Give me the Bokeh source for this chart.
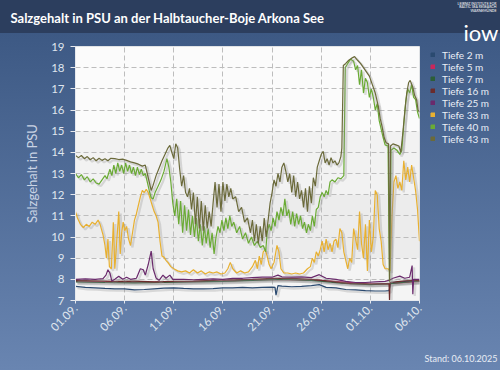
import pandas as pd
from math import pi
from bokeh.plotting import figure
from bokeh.models import (ColumnDataSource, FixedTicker, DatetimeTickFormatter, Legend,
                          LegendItem, Label, BoxAnnotation, InlineStyleSheet)
from bokeh.transform import dodge
from bokeh.embed import file_html
from bokeh.resources import INLINE

# ---------------- data (days since 01.09.2025, salinity PSU) ----------------
START = "2025-09-01"
END = "2025-10-06"
tick_dates = ["2025-09-01", "2025-09-06", "2025-09-11", "2025-09-16",
              "2025-09-21", "2025-09-26", "2025-10-01", "2025-10-06"]
y_ticks = list(range(7, 20))

series_labels = ["Tiefe 2 m", "Tiefe 5 m", "Tiefe 7 m", "Tiefe 16 m",
                 "Tiefe 25 m", "Tiefe 33 m", "Tiefe 40 m", "Tiefe 43 m"]
series_colors = ["#2b4a70", "#c8285c", "#2d5e38", "#6b2c2c",
                 "#6a2a6c", "#e8b030", "#6aab34", "#6b6a3a"]

t_2m = [0, 1, 2, 3, 4, 5, 6, 7, 8, 9, 10, 11, 12, 13, 14, 15, 16, 17, 18, 19, 20,
        20.3, 20.4, 20.6, 21, 22, 23, 24, 24.8, 25.5, 26.5, 27.5, 28.5, 29.5, 30.5,
        31.5, 31.9, 32.1, 33, 34, 35]
s_2m = [7.67, 7.62, 7.6, 7.57, 7.55, 7.55, 7.5, 7.52, 7.55, 7.58, 7.6, 7.57, 7.55, 7.55,
        7.56, 7.6, 7.6, 7.62, 7.6, 7.62, 7.63, 7.62, 7.25, 7.7, 7.68, 7.65, 7.67, 7.7,
        7.75, 7.62, 7.6, 7.52, 7.5, 7.47, 7.45, 7.45, 7.47, 7.85, 7.88, 7.9, 7.9]

t_5m = [0, 5, 10, 15, 20, 25, 30, 32, 35]
s_5m = [7.9, 7.87, 7.88, 7.92, 8.0, 7.95, 7.78, 7.8, 7.9]

t_7m = [0, 3, 6, 9, 12, 15, 18, 21, 24, 27, 30, 32, 35]
s_7m = [7.88, 7.85, 7.83, 7.85, 7.88, 7.9, 7.95, 8.0, 7.95, 7.82, 7.75, 7.8, 7.92]

t_16m = [0, 2, 4, 6, 8, 10, 12, 14, 16, 18, 20, 22, 24, 26, 28, 30, 31.9, 31.95,
         32.0, 33, 34, 35]
s_16m = [7.95, 7.93, 7.9, 7.92, 7.88, 7.9, 7.92, 7.95, 7.98, 8.0, 8.05, 8.05, 8.0,
         7.9, 7.8, 7.78, 7.8, 7.0, 7.85, 7.9, 7.95, 7.95]

t_25m = [0, 1, 2, 2.8, 3.1, 3.3, 3.5, 3.7, 4.0, 4.4, 4.8, 5.2, 5.6, 6.2, 6.6, 6.9, 7.1,
         7.4, 7.7, 7.9, 8.2, 8.5, 8.9, 9.2, 9.6, 9.9, 11, 12, 13, 14, 15, 16, 17, 18,
         19, 20, 20.6, 21, 22, 23, 24, 24.8, 25.5, 26.5, 27.5, 28.5, 29.5, 30.5, 31.5,
         31.9, 32.3, 33.0, 33.5, 34.0, 34.25, 34.32, 34.4, 35]
s_25m = [8.0, 8.02, 8.0, 8.03, 8.2, 8.45, 8.3, 7.92, 8.0, 8.15, 8.0, 8.1, 8.0, 8.05,
         8.5, 8.45, 8.2, 8.7, 9.33, 8.5, 8.06, 7.95, 8.2, 8.05, 8.2, 8.0, 8.0, 7.98,
         8.0, 8.02, 8.0, 8.05, 8.05, 8.08, 8.1, 8.1, 8.2, 8.12, 8.1, 8.12, 8.08, 8.22,
         8.05, 8.0, 7.9, 7.85, 7.85, 7.88, 7.9, 7.95, 8.05, 8.15, 8.05, 8.1, 8.65, 7.3,
         8.0, 8.0]

t_33m = [0.0, 0.2, 0.5, 0.8, 1.1, 1.4, 1.7, 2.0, 2.3, 2.5, 2.8, 3.0, 3.15, 3.3, 3.45,
         3.65, 3.85, 4.0, 4.2, 4.4, 4.55, 4.7, 4.85, 5.0, 5.2, 5.4, 5.6, 5.8, 6.0, 6.2,
         6.4, 6.6, 6.8, 7.0, 7.2, 7.4, 7.6, 7.8, 8.0, 8.2, 8.4, 8.6, 8.8, 9.0, 9.2, 9.4,
         9.7, 10.0, 10.4, 10.8, 11.2, 11.6, 12.0, 12.4, 12.8, 13.2, 13.6, 14.0, 14.4,
         14.8, 15.2, 15.5, 15.75, 16.0, 16.4, 16.8, 17.2, 17.6, 18.0, 18.3, 18.5, 18.7,
         18.9, 19.1, 19.3, 19.5, 19.7, 19.9, 20.2, 20.5, 20.7, 20.9, 21.2, 21.6, 22.0,
         22.4, 22.8, 23.2, 23.6, 23.9, 24.1, 24.3, 24.5, 24.7, 24.9, 25.1, 25.3, 25.5,
         25.7, 25.9, 26.1, 26.3, 26.5, 26.7, 26.9, 27.1, 27.3, 27.5, 27.7, 27.9, 28.1,
         28.3, 28.5, 28.7, 28.9, 29.1, 29.3, 29.5, 29.7, 29.9, 30.1, 30.3, 30.5, 30.7,
         30.9, 31.1, 31.3, 31.5, 31.8, 32.0, 32.2, 32.4, 32.6, 32.8, 33.0, 33.2, 33.4,
         33.6, 33.8, 34.0, 34.2, 34.4, 34.6, 34.8, 35.0]
s_33m = [11.2, 10.9, 10.6, 10.45, 10.6, 10.5, 10.7, 10.6, 10.8, 10.6, 10.1, 9.6, 9.0,
         9.9, 8.6, 8.5, 10.7, 8.5, 9.8, 11.2, 9.2, 10.2, 10.7, 10.3, 10.5, 9.9, 9.6,
         10.2, 10.8, 11.1, 11.5, 11.9, 12.2, 12.1, 12.25, 12.1, 11.8, 11.5, 11.2, 11.0,
         10.7, 9.8, 9.1, 9.05, 8.9, 8.8, 8.6, 8.5, 8.4, 8.35, 8.4, 8.3, 8.45, 8.3, 8.4,
         8.25, 8.35, 8.3, 8.35, 8.25, 8.3, 8.5, 8.8, 8.5, 8.3, 8.4, 8.3, 8.35, 8.6, 8.9,
         8.5, 9.1, 8.7, 9.3, 9.4, 9.1, 8.7, 8.5, 8.8, 9.6, 9.3, 8.5, 8.3, 8.3, 8.25, 8.3,
         8.25, 8.3, 8.5, 8.6, 9.0, 8.8, 9.3, 9.1, 9.4, 9.8, 9.3, 9.9, 9.4, 9.7, 9.3, 9.8,
         9.9, 9.5, 10.4, 10.2, 9.3, 8.9, 8.5, 9.0, 8.8, 10.4, 9.9, 9.4, 11.2, 9.7, 9.0,
         10.6, 8.4, 10.8, 9.3, 10.0, 12.2, 12.0, 10.4, 9.8, 8.7, 8.5, 8.5, 8.4, 11.0,
         12.6, 12.9, 12.3, 12.6, 12.2, 13.6, 12.7, 13.3, 12.6, 13.4, 12.8, 12.2, 11.3,
         9.8]

t_40m = [0.0, 0.3, 0.6, 0.9, 1.2, 1.5, 1.8, 2.1, 2.4, 2.7, 3.0, 3.2, 3.5, 3.7, 3.9, 4.1,
         4.3, 4.5, 4.7, 4.9, 5.1, 5.3, 5.5, 5.7, 5.9, 6.1, 6.3, 6.5, 6.7, 6.9, 7.1, 7.3,
         7.5, 7.7, 7.9, 8.1, 8.4, 8.7, 9.0, 9.3, 9.5, 9.7, 9.9, 10.1, 10.3, 10.5, 10.7,
         10.9, 11.1, 11.3, 11.5, 11.7, 11.9, 12.1, 12.3, 12.5, 12.7, 12.9, 13.1, 13.3,
         13.5, 13.7, 13.9, 14.1, 14.3, 14.5, 14.7, 14.9, 15.1, 15.3, 15.5, 15.7, 15.9,
         16.1, 16.4, 16.7, 17.0, 17.3, 17.6, 17.9, 18.2, 18.5, 18.8, 19.1, 19.35, 19.5,
         19.7, 19.9, 20.1, 20.3, 20.5, 20.7, 20.9, 21.1, 21.3, 21.5, 21.7, 21.9, 22.1,
         22.3, 22.5, 22.7, 22.9, 23.1, 23.3, 23.5, 23.7, 23.9, 24.1, 24.3, 24.5, 24.7,
         24.9, 25.1, 25.3, 25.5, 25.7, 25.9, 26.1, 26.4, 26.7, 27.0, 27.3, 27.45, 27.7,
         28.0, 28.3, 28.5, 28.7, 28.9, 29.1, 29.3, 29.5, 29.7, 29.9, 30.1, 30.3, 30.5,
         30.7, 30.9, 31.1, 31.3, 31.5, 31.8, 31.95, 32.1, 32.4, 32.7, 33.0, 33.2, 33.4,
         33.6, 33.8, 34.0, 34.2, 34.4, 34.6, 34.8, 35.0]
s_40m = [13.0, 12.8, 12.95, 12.7, 12.85, 12.6, 12.75, 12.55, 12.5, 12.7, 12.9, 12.75,
         13.2, 12.9, 13.4, 13.0, 13.5, 13.1, 13.4, 13.0, 13.5, 13.1, 13.4, 13.0, 13.3,
         12.9, 13.3, 12.95, 13.2, 12.9, 13.0, 12.6, 12.2, 11.85, 11.8, 12.1, 12.4, 12.7,
         13.1, 13.7, 13.3, 12.6, 11.6, 11.0, 11.8, 10.6, 11.7, 10.2, 11.5, 10.3, 11.3,
         10.1, 11.0, 10.0, 10.9, 9.8, 10.6, 9.6, 10.5, 9.7, 10.4, 9.5, 10.2, 9.2, 10.0,
         10.5, 10.2, 10.8, 10.3, 10.9, 10.4, 11.0, 10.5, 10.7, 10.2, 10.5, 9.9, 10.2,
         9.7, 10.0, 9.6, 9.8, 9.5, 9.6, 9.3, 10.2, 10.6, 10.3, 10.9, 10.5, 11.2, 10.8,
         11.4, 11.0, 11.8, 11.0, 11.3, 10.6, 11.2, 10.5, 11.1, 10.6, 11.0, 10.4, 10.7,
         10.2, 10.6, 10.3, 11.0, 10.5, 11.3, 11.4, 11.9, 12.1, 11.9, 12.2, 12.0, 12.6,
         12.7, 12.6, 12.8, 12.75, 12.9, 18.0, 18.2, 18.4, 18.3, 17.9, 18.1, 17.2, 17.9,
         16.8, 17.5, 17.3, 16.6, 17.0, 16.6, 16.0, 16.3, 15.5, 15.1, 14.7, 14.35, 14.3,
         7.9, 14.1, 14.2, 14.1, 13.9, 14.1, 15.3, 16.4, 17.0, 16.8, 17.2, 16.6, 16.5,
         15.9, 15.6]

t_43m = [0.0, 0.3, 0.6, 0.9, 1.2, 1.5, 1.8, 2.1, 2.4, 2.7, 3.0, 3.3, 3.6, 4.0, 4.4, 4.8,
         5.2, 5.6, 6.0, 6.4, 6.8, 7.1, 7.3, 7.5, 7.7, 7.9, 8.2, 8.5, 8.8, 9.1, 9.4, 9.6,
         9.8, 10.0, 10.2, 10.4, 10.6, 10.8, 11.0, 11.2, 11.4, 11.6, 11.8, 12.0, 12.2,
         12.4, 12.6, 12.8, 13.0, 13.2, 13.4, 13.6, 13.8, 14.0, 14.2, 14.4, 14.6, 14.8,
         15.0, 15.2, 15.4, 15.6, 15.8, 16.0, 16.3, 16.6, 16.9, 17.2, 17.5, 17.8, 18.0,
         18.2, 18.4, 18.6, 18.8, 19.0, 19.2, 19.4, 19.6, 19.8, 20.0, 20.2, 20.4, 20.6,
         20.8, 21.0, 21.2, 21.4, 21.6, 21.8, 22.0, 22.2, 22.4, 22.6, 22.8, 23.0, 23.2,
         23.4, 23.6, 23.8, 24.0, 24.2, 24.4, 24.6, 24.8, 25.0, 25.2, 25.4, 25.6, 25.8,
         26.0, 26.2, 26.4, 26.6, 26.8, 27.0, 27.1, 27.25, 27.5, 27.8, 28.1, 28.4, 28.7,
         29.0, 29.3, 29.6, 29.9, 30.2, 30.5, 30.8, 31.0, 31.2, 31.4, 31.6, 31.85, 31.95,
         32.05, 32.3, 32.6, 32.9, 33.1, 33.3, 33.5, 33.7, 33.9, 34.05, 34.3, 34.5, 34.7,
         34.85, 35.0]
s_43m = [13.85, 13.75, 13.85, 13.7, 13.8, 13.65, 13.75, 13.6, 13.72, 13.62, 13.7, 13.6,
         13.72, 13.7, 13.66, 13.68, 13.62, 13.55, 13.5, 13.44, 13.35, 13.4, 13.0, 12.6,
         12.2, 12.45, 12.9, 13.25, 13.6, 13.9, 14.2, 14.33, 14.0, 13.7, 14.4, 14.2, 13.2,
         12.4, 12.9, 12.1, 11.9, 12.3, 11.3, 12.1, 10.6, 11.9, 10.4, 11.7, 10.3, 11.5,
         10.4, 11.2, 10.5, 11.6, 12.6, 11.4, 12.5, 11.2, 12.6, 11.7, 12.5, 11.9, 12.3,
         11.8, 11.9, 11.2, 11.4, 10.7, 10.9, 10.2, 10.8, 9.8, 10.6, 9.7, 10.5, 9.8, 10.9,
         10.0, 10.8, 11.6, 12.1, 12.7, 12.4, 13.0, 12.6, 13.3, 13.5, 13.1, 12.6, 13.0,
         12.1, 12.9, 11.9, 12.6, 11.8, 12.2, 11.4, 12.3, 11.2, 12.4, 11.6, 12.8, 12.4,
         13.3, 13.6, 13.9, 14.05, 13.5, 13.7, 13.4, 13.75, 13.5, 13.6, 13.4, 13.5, 13.8,
         14.2, 18.1, 18.2, 18.35, 18.45, 18.52, 18.35, 18.2, 18.0, 17.8, 17.6, 17.2, 16.8,
         16.2, 15.6, 15.2, 14.7, 14.45, 14.4, 7.9, 14.3, 14.4, 14.35, 14.3, 14.0, 14.9,
         15.9, 16.8, 17.3, 17.4, 17.1, 16.7, 16.5, 16.0, 15.9]

series_t = [t_2m, t_5m, t_7m, t_16m, t_25m, t_33m, t_40m, t_43m]
series_v = [s_2m, s_5m, s_7m, s_16m, s_25m, s_33m, s_40m, s_43m]

title_text = "Salzgehalt in PSU an der Halbtaucher-Boje Arkona See"
y_title = "Salzgehalt in PSU"
stand_text = "Stand: 06.10.2025"
logo_lines = ["LEIBNIZ INSTITUTE FOR", "BALTIC SEA RESEARCH", "WARNEMÜNDE"]

# ---------------- main figure ----------------
start = pd.Timestamp(START)
end = pd.Timestamp(END)
FONT = "Lato"

css_main = InlineStyleSheet(css=""":host { position: absolute; left: 0px; top: 0px;
  background: linear-gradient(to bottom, #2c3e5e 0px, #2c3e5e 33px, #3d5984 33px, #6985b1 370px); }""")
css_over = InlineStyleSheet(css=""":host { position: absolute; left: 0px; top: 0px; pointer-events: none; }""")

fig = figure(width=500, height=370, x_axis_type="datetime",
             x_range=(start, end), y_range=(7, 19),
             output_backend="svg", toolbar_location=None,
             min_border_left=75, min_border_right=81, min_border_top=46,
             min_border_bottom=70, stylesheets=[css_main])
fig.border_fill_color = None
fig.background_fill_color = "#f8f8f8"
fig.outline_line_color = "#d6dade"

for lo, hi, col in [(15, 19, "#fbfbfb"), (12, 15, "#f2f2f2"), (9, 12, "#ececec"), (7, 9, "#f4f4f4")]:
    fig.add_layout(BoxAnnotation(bottom=lo, top=hi, fill_color=col, fill_alpha=1.0,
                                 line_alpha=0, level="image"))

day_ms = 86400000
for t, v, c in zip(series_t, series_v, series_colors):
    xs = [start + pd.Timedelta(days=d) for d in t]
    src = ColumnDataSource(dict(x=xs, y=v))
    fig.line(x=dodge("x", 0.2 * day_ms), y=dodge("y", -0.09), source=src,
             line_color="#8c8c8c", line_alpha=0.28, line_width=2.2)
    fig.line(x="x", y="y", source=src, line_color=c, line_width=1.2)

# axes
tick_ms = [pd.Timestamp(d).value // 10**6 for d in tick_dates]
fig.xaxis.ticker = FixedTicker(ticks=tick_ms)
fmt = "%d.%m."
fig.xaxis.formatter = DatetimeTickFormatter(days=fmt, months=fmt, hours=fmt, years=fmt,
                                            minutes=fmt, hourmin=fmt, context=None)
fig.xaxis.major_label_orientation = pi / 4
fig.yaxis.ticker = FixedTicker(ticks=y_ticks)
for ax in (fig.xaxis, fig.yaxis):
    ax.axis_line_color = "#e6e9ee"
    ax.major_tick_line_color = "#e6e9ee"
    ax.minor_tick_line_color = None
    ax.major_label_text_color = "#dfe5ee"
    ax.major_label_text_font = FONT
    ax.major_label_text_font_size = "11.5px"
fig.yaxis.major_tick_in = 0
fig.yaxis.major_tick_out = 5
fig.xaxis.major_tick_in = 0
fig.xaxis.major_tick_out = 3
fig.yaxis.major_label_standoff = 6
fig.xaxis.major_label_standoff = 3
fig.yaxis.axis_label = y_title
fig.yaxis.axis_label_text_color = "#c9d3e4"
fig.yaxis.axis_label_text_font = FONT
fig.yaxis.axis_label_text_font_size = "13px"
fig.yaxis.axis_label_text_font_style = "normal"
fig.yaxis.axis_label_standoff = 8

for g in (fig.xgrid, fig.ygrid):
    g.grid_line_color = "#bdbdbd"
    g.grid_line_dash = "5 3"

# ---------------- overlay for texts and legend (canvas pixel coordinates) ----------------
ov = figure(width=500, height=370, x_range=(0, 500), y_range=(370, 0),
            output_backend="svg", toolbar_location=None, min_border=0,
            stylesheets=[css_over])
ov.axis.visible = False
ov.grid.visible = False
ov.outline_line_color = None
ov.background_fill_color = None
ov.border_fill_color = None

# legend-only proxy renderers: one box each, lying outside the overlay's visible range
proxy = ColumnDataSource(dict(left=[-30], right=[-20], top=[-30], bottom=[-20]))
items = []
for lab, c in zip(series_labels, series_colors):
    r = ov.quad(left="left", right="right", top="top", bottom="bottom", source=proxy,
                fill_color=c, line_color=c)
    items.append(LegendItem(label=lab, renderers=[r]))
legend = Legend(items=items, location=(430, 370 - 144.5), padding=0, margin=0, spacing=0,
                glyph_width=5, glyph_height=5, label_height=11, label_standoff=7,
                background_fill_alpha=0, border_line_alpha=0,
                label_text_color="#e9eef6", label_text_font=FONT,
                label_text_font_size="10px")
ov.add_layout(legend, "center")

ov.add_layout(Label(x=10, y=17, text=title_text, text_color="white", text_font=FONT,
                    text_font_size="13px", text_font_style="bold",
                    text_baseline="middle", text_align="left"))
ov.add_layout(Label(x=497, y=358, text=stand_text, text_color="#e8edf5", text_font=FONT,
                    text_font_size="9px", text_baseline="middle", text_align="right"))
ov.add_layout(Label(x=463, y=32, text="iow", text_color="white", text_font=FONT,
                    text_font_size="22px", text_baseline="alphabetic", text_align="left"))
for i, line in enumerate(logo_lines):
    ov.add_layout(Label(x=496, y=3 + 3.6 * i, text=line, text_color="white", text_font=FONT,
                        text_font_size="3.5px", text_baseline="middle", text_align="right"))

p = [fig, ov]
open("out.html", "w").write(file_html(p, INLINE))
